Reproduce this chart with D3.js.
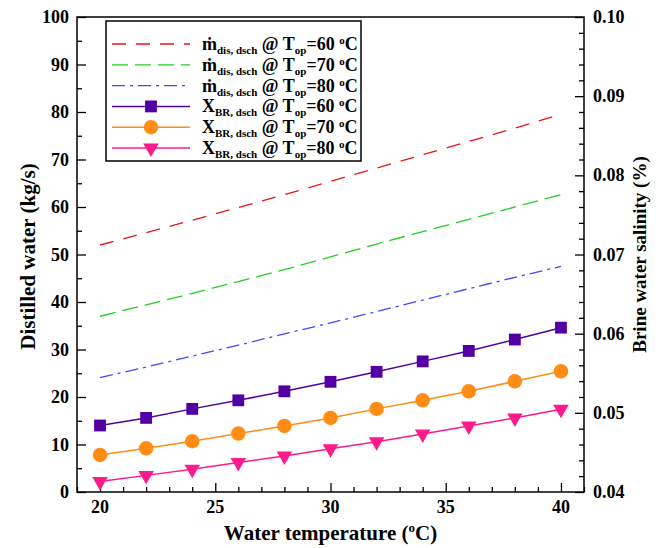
<!DOCTYPE html>
<html><head><meta charset="utf-8">
<script src="https://cdn.jsdelivr.net/npm/d3@7"></script>
<style>body{margin:0;background:#fff}text{font-family:"Liberation Serif","Times New Roman",serif;font-weight:bold;fill:#000}</style>
</head><body>
<svg id="c" width="670" height="548"></svg>
<script>
const temps = [20,22,24,26,28,30,32,34,36,38,40];
const mdis60 = [52,54.6,57.2,59.9,62.6,65.4,68.2,71,73.8,76.6,79.5];
const mdis70 = [37,39.4,41.8,44.3,46.8,49.5,52.2,54.8,57.4,60,62.6];
const mdis80 = [24.1,26.3,28.6,30.9,33.3,35.6,38,40.4,42.8,45.2,47.5];
const xbr60 = [0.0484,0.04936,0.0505,0.05158,0.05272,0.05392,0.05518,0.0565,0.05782,0.05926,0.06076];
const xbr70 = [0.04468,0.04552,0.04642,0.04738,0.04834,0.04936,0.0505,0.05158,0.05272,0.05398,0.05524];
const xbr80 = [0.04132,0.0421,0.04288,0.04372,0.04456,0.04546,0.04636,0.04732,0.04834,0.04936,0.05044];
const xTicks = [20,25,30,35,40];
const yTicks = [0,10,20,30,40,50,60,70,80,90,100];
const y2Ticks = [0.04,0.05,0.06,0.07,0.08,0.09,0.10];

const svg = d3.select("#c");
const L=77,R=584,T=17,B=492;
const x = d3.scaleLinear().domain([19,41]).range([L,R]);
const y = d3.scaleLinear().domain([0,100]).range([B,T]);
const y2 = d3.scaleLinear().domain([0.04,0.10]).range([B,T]);

// frame
svg.append("rect").attr("x",L).attr("y",T).attr("width",R-L).attr("height",B-T).attr("fill","none").attr("stroke","#000").attr("stroke-width",1.5);

// bottom axis ticks
const gx = svg.append("g").attr("transform",`translate(0,${B})`);
gx.call(d3.axisBottom(x).tickValues(d3.range(19,42,1)).tickSize(-5).tickFormat(""));
gx.call(g=>g.selectAll(".tick").filter(d=>d%5===0).select("line").attr("y2",-9));
gx.select(".domain").remove();
gx.selectAll("line").attr("stroke","#000").attr("stroke-width",1.3);
xTicks.forEach(t=>svg.append("text").attr("x",x(t)).attr("y",B+21).attr("text-anchor","middle").attr("font-size",18).text(t));

// left axis
const gy = svg.append("g").attr("transform",`translate(${L},0)`);
gy.call(d3.axisLeft(y).tickValues(d3.range(0,101,5)).tickSize(-5).tickFormat(""));
gy.call(g=>g.selectAll(".tick").filter(d=>d%10===0).select("line").attr("x2",9));
gy.select(".domain").remove();
gy.selectAll("line").attr("stroke","#000").attr("stroke-width",1.3);
yTicks.forEach(t=>svg.append("text").attr("x",L-8).attr("y",y(t)+6).attr("text-anchor","end").attr("font-size",18).text(t));

// right axis
const gy2 = svg.append("g").attr("transform",`translate(${R},0)`);
const minor2 = d3.range(0,31).map(i=>+(0.04+i*0.002).toFixed(3));
gy2.call(d3.axisRight(y2).tickValues(minor2).tickSize(-5).tickFormat(""));
gy2.call(g=>g.selectAll(".tick").filter(d=>Math.round(d*1000)%10===0).select("line").attr("x2",-9));
gy2.select(".domain").remove();
gy2.selectAll("line").attr("stroke","#000").attr("stroke-width",1.3);
y2Ticks.forEach(t=>svg.append("text").attr("x",R+9).attr("y",y2(t)+6).attr("text-anchor","start").attr("font-size",18).text(t.toFixed(2)));

// titles
svg.append("text").attr("transform",`translate(35,${(T+B)/2+2}) rotate(-90)`).attr("text-anchor","middle").attr("font-size",21).text("Distilled water (kg/s)");
const rt = svg.append("text").attr("transform",`translate(646,${(T+B)/2}) rotate(-90)`).attr("text-anchor","middle").attr("font-size",19);
rt.text("Brine water salinity (%)");
const xt = svg.append("text").attr("x",(L+R)/2),attrY=0;
xt.attr("y",540).attr("text-anchor","middle").attr("font-size",21);
xt.append("tspan").text("Water temperature (");
xt.append("tspan").attr("font-size",13).attr("dy",-8).text("o");
xt.append("tspan").attr("dy",8).text("C)");

// series
const dashSeries = [
  {v:mdis60,c:"#e8141e",dash:"14,10"},
  {v:mdis70,c:"#22d022",dash:"16,7"},
  {v:mdis80,c:"#4646ff",dash:"13,5,3,5"}
];
const line = d3.line();
dashSeries.forEach(s=>{
  svg.append("path").attr("d",line(temps.map((t,i)=>[x(t),y(s.v[i])]))).attr("fill","none").attr("stroke",s.c).attr("stroke-width",1.3).attr("stroke-dasharray",s.dash);
});
const markSeries = [
  {v:xbr60,c:"#5200a3",sym:d3.symbolSquare,size:140,rot:0},
  {v:xbr70,c:"#ff8c14",sym:d3.symbolCircle,size:165,rot:0},
  {v:xbr80,c:"#ff1a8c",sym:d3.symbolTriangle,size:105,rot:180}
];
markSeries.forEach(s=>{
  svg.append("path").attr("d",line(temps.map((t,i)=>[x(t),y2(s.v[i])]))).attr("fill","none").attr("stroke",s.c).attr("stroke-width",1.5);
  svg.selectAll(null).data(temps).enter().append("path")
    .attr("d",d3.symbol().type(s.sym).size(s.size))
    .attr("transform",(t,i)=>`translate(${x(t)},${y2(s.v[i])}) rotate(${s.rot})`)
    .attr("fill",s.c);
});

// legend
const lg = svg.append("g");
lg.append("rect").attr("x",106).attr("y",21).attr("width",255).attr("height",140).attr("fill","#fff").attr("stroke","#000").attr("stroke-width",1.5);
const entries = [
  {s:dashSeries[0],kind:"dash",sub:"dis, dsch",v:"60"},
  {s:dashSeries[1],kind:"dash",sub:"dis, dsch",v:"70"},
  {s:dashSeries[2],kind:"dash",sub:"dis, dsch",v:"80"},
  {s:markSeries[0],kind:"mark",sub:"BR, dsch",v:"60"},
  {s:markSeries[1],kind:"mark",sub:"BR, dsch",v:"70"},
  {s:markSeries[2],kind:"mark",sub:"BR, dsch",v:"80"}
];
entries.forEach((e,i)=>{
  const yy = 44+i*20.8;
  const p = lg.append("line").attr("x1",112).attr("x2",190).attr("y1",yy).attr("y2",yy).attr("stroke",e.s.c).attr("stroke-width",e.kind==="dash"?1.3:1.5);
  if(e.kind==="dash") p.attr("stroke-dasharray",e.s.dash);
  else lg.append("path").attr("d",d3.symbol().type(e.s.sym).size(e.s.size)).attr("transform",`translate(151,${yy}) rotate(${e.s.rot})`).attr("fill",e.s.c);
  const tx = lg.append("text").attr("x",202).attr("y",yy+6).attr("font-size",18);
  tx.append("tspan").text(e.kind==="dash"?"ṁ":"X");
  tx.append("tspan").attr("font-size",11).attr("dy",4).text(e.sub);
  tx.append("tspan").attr("dy",-4).text(" @ T");
  tx.append("tspan").attr("font-size",11).attr("dy",4).text("op");
  tx.append("tspan").attr("dy",-4).text("=" + e.v + " ");
  tx.append("tspan").attr("font-size",11).attr("dy",-6).text("o");
  tx.append("tspan").attr("dy",6).text("C");
});
</script>
</body></html>
